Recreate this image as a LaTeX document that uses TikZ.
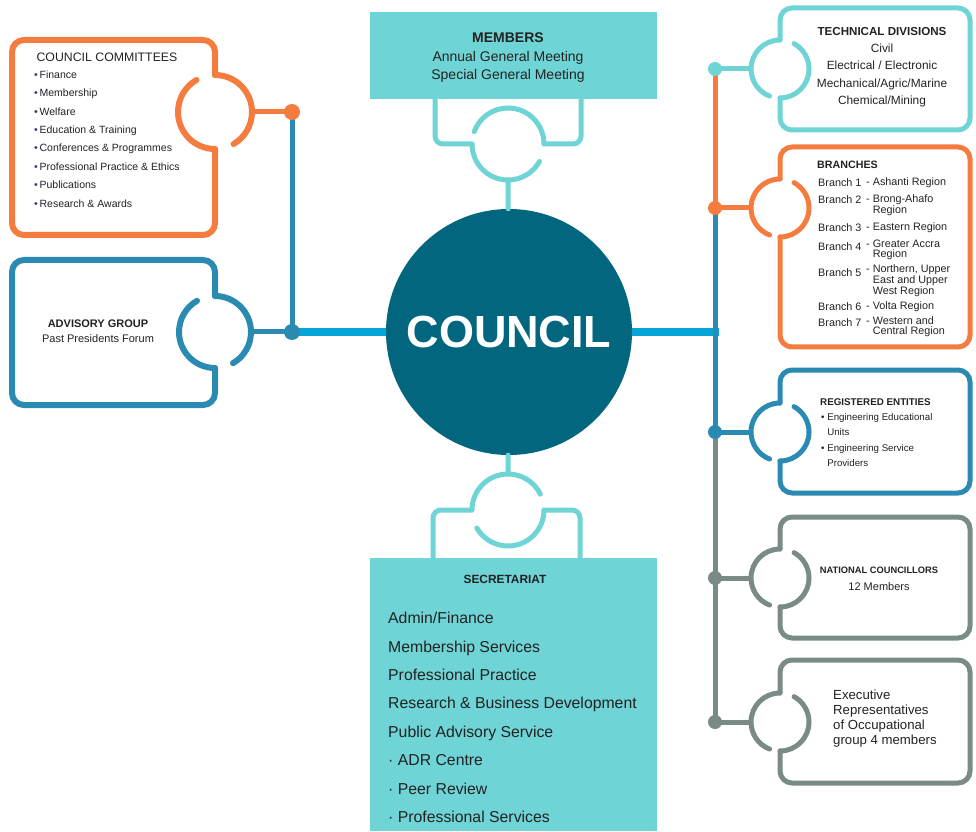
\documentclass[tikz,border=0pt]{standalone}
\usepackage{fontspec}
\setmainfont{Liberation Sans}
\usepackage{tikz}

\definecolor{orng}{HTML}{F47C3E}
\definecolor{aqua}{HTML}{6FD4D6}
\definecolor{blu}{HTML}{2A8AB2}
\definecolor{councilblue}{HTML}{03667F}
\definecolor{cyanbar}{HTML}{05A5D6}
\definecolor{slate}{HTML}{788B87}
\definecolor{ink}{HTML}{222222}
\definecolor{bullet}{HTML}{3D2E8F}

\begin{document}
\begin{tikzpicture}[x=1pt, y=1pt, line cap=round, text=ink,
  ring/.style={circle, inner sep=0pt, minimum size=#1},
  dot/.style={circle, fill=#1, inner sep=0pt, minimum size=14pt},
  box/.style={line width=5pt, rounded corners=12pt},
  brtxt/.style={anchor=west, inner sep=0pt, align=left, font=\fontsize{10.8}{10}\selectfont}]
  \useasboundingbox (0,0) rectangle (976,831);

  % left boxes
  \draw[orng, box, line width=6pt] (215,756) -- (215,791) -- (12,791) -- (12,596) -- (215,596) -- (215,682);
  \draw[orng, line width=6pt] (215,682) arc[start angle=270, end angle=120, radius=37pt]
    (215,756) arc[start angle=90, end angle=-60, radius=37pt];
  \node[ring=74pt] (cc) at (215,719) {};
  \draw[blu, box, line width=6pt] (215,535) -- (215,571) -- (12,571) -- (12,426) -- (215,426) -- (215,463);
  \draw[blu, line width=6pt] (215,463) arc[start angle=270, end angle=120, radius=36pt]
    (215,535) arc[start angle=90, end angle=-60, radius=36pt];
  \node[ring=72pt] (adv) at (215,499) {};

  % centre
  \node[circle, fill=councilblue, minimum size=246pt, inner sep=0pt, text=white,
    font=\bfseries\fontsize{45}{54}\selectfont] (council) at (509,499) {COUNCIL};

  % members
  \node[fill=aqua, minimum width=287pt, minimum height=87pt, inner sep=0pt, anchor=north west] (mem) at (370,819) {};
  \draw[aqua, line width=5pt, rounded corners=8pt] (435,732) -- (435,687) -- (472,687)
    (581,732) -- (581,687) -- (544,687);
  \draw[aqua, line width=5pt] (472,687) arc[start angle=180, end angle=331, radius=36pt]
    (544,687) arc[start angle=0, end angle=160, radius=36pt];
  \node[ring=72pt] (memring) at (508,687) {};
  \draw[aqua, line width=5pt] (memring.south) -- (council);

  % secretariat
  \node[fill=aqua, minimum width=287pt, minimum height=273pt, inner sep=0pt, anchor=south west] (sec) at (370,0) {};
  \draw[aqua, line width=5pt, rounded corners=8pt] (433,273) -- (433,321) -- (472,321)
    (580,273) -- (580,321) -- (544,321);
  \draw[aqua, line width=5pt] (472,321) arc[start angle=180, end angle=26, radius=36pt]
    (544,321) arc[start angle=0, end angle=-150, radius=36pt];
  \node[ring=72pt] (secring) at (508,321) {};
  \draw[aqua, line width=5pt] (secring.north) -- (council);

  % right boxes
  \draw[aqua, box] (780,791) -- (780,823) -- (970,823) -- (970,701) -- (780,701) -- (780,733);
  \draw[aqua, line width=5pt] (780,791) arc[start angle=90, end angle=249, radius=29pt]
    (780,733) arc[start angle=-90, end angle=61, radius=29pt];
  \node[ring=58pt] (td) at (780,762) {};
  \draw[orng, box] (780,652) -- (780,684) -- (970,684) -- (970,484) -- (780,484) -- (780,594);
  \draw[orng, line width=5pt] (780,652) arc[start angle=90, end angle=249, radius=29pt]
    (780,594) arc[start angle=-90, end angle=61, radius=29pt];
  \node[ring=58pt] (br) at (780,623) {};
  \draw[blu, box] (780,428) -- (780,461) -- (970,461) -- (970,338) -- (780,338) -- (780,370);
  \draw[blu, line width=5pt] (780,428) arc[start angle=90, end angle=249, radius=29pt]
    (780,370) arc[start angle=-90, end angle=61, radius=29pt];
  \node[ring=58pt] (re) at (780,399) {};
  \draw[slate, box] (780,282) -- (780,314) -- (970,314) -- (970,193) -- (780,193) -- (780,224);
  \draw[slate, line width=5pt] (780,282) arc[start angle=90, end angle=249, radius=29pt]
    (780,224) arc[start angle=-90, end angle=61, radius=29pt];
  \node[ring=58pt] (nc) at (780,253) {};
  \draw[slate, box] (780,138) -- (780,171) -- (970,171) -- (970,48) -- (780,48) -- (780,80);
  \draw[slate, line width=5pt] (780,138) arc[start angle=90, end angle=249, radius=29pt]
    (780,80) arc[start angle=-90, end angle=61, radius=29pt];
  \node[ring=58pt] (ex) at (780,109) {};

  % junctions
  \coordinate (jcc) at (292,719);
  \coordinate (jadv) at (292,499);
  \coordinate (jtd) at (715,762);
  \coordinate (jbr) at (715,623);
  \coordinate (jre) at (715,399);
  \coordinate (jnc) at (715,253);
  \coordinate (jex) at (715,109);
  \coordinate (jbar) at (719,499);

  \draw[cyanbar, line width=8pt, line cap=butt] (jadv) -- (council) (council) -- (jbar);
  \draw[orng, line width=5pt] (cc.east) -- (jcc);
  \draw[blu, line width=5pt] (jcc) -- (jadv) (adv.east) -- (jadv);
  \draw[aqua, line width=5pt] (td.west) -- (jtd);
  \draw[orng, line width=5pt] (jtd) -- (jbr) (br.west) -- (jbr);
  \draw[blu, line width=5pt] (jbr) -- (jre) (re.west) -- (jre);
  \draw[slate, line width=5pt] (jre) -- (jex) (nc.west) -- (jnc) (ex.west) -- (jex);

  \node[dot=orng, minimum size=16pt] (dcc) at (jcc) {};
  \node[dot=blu, minimum size=16pt] (dadv) at (jadv) {};
  \node[dot=aqua] (dtd) at (jtd) {};
  \node[dot=orng] (dbr) at (jbr) {};
  \node[dot=blu] (dre) at (jre) {};
  \node[dot=slate] (dnc) at (jnc) {};
  \node[dot=slate] (dex) at (jex) {};

  % texts
  \node[font=\fontsize{12.3}{15}\selectfont] (cctitle) at (107,774) {COUNCIL COMMITTEES};
  \node[anchor=west, align=left, inner sep=0pt, font=\fontsize{10.5}{18.4}\selectfont] (cclist) at (34,692)
    {\textcolor{bullet}{\textbullet}\,Finance\\\textcolor{bullet}{\textbullet}\,Membership\\
     \textcolor{bullet}{\textbullet}\,Welfare\\\textcolor{bullet}{\textbullet}\,Education \& Training\\
     \textcolor{bullet}{\textbullet}\,Conferences \& Programmes\\\textcolor{bullet}{\textbullet}\,Professional Practice \& Ethics\\
     \textcolor{bullet}{\textbullet}\,Publications\\\textcolor{bullet}{\textbullet}\,Research \& Awards};
  \node[align=center, font=\fontsize{11}{15.5}\selectfont] (advtxt) at (98,500)
    {\textbf{ADVISORY GROUP}\\Past Presidents Forum};
  \node[align=center, font=\fontsize{14}{18.5}\selectfont] (memtxt) at (508,773)
    {\textbf{MEMBERS}\\Annual General Meeting\\Special General Meeting};
  \node[font=\bfseries\fontsize{11.9}{14}\selectfont] (sectitle) at (505,252) {SECRETARIAT};
  \node[anchor=west, align=left, inner sep=0pt, font=\fontsize{15.8}{28.4}\selectfont] (seclist) at (388,113.5)
    {Admin/Finance\\Membership Services\\Professional Practice\\Research \& Business Development\\
     Public Advisory Service\\· ADR Centre\\· Peer Review\\· Professional Services};

  \node[align=center, font=\fontsize{11.9}{17.3}\selectfont] (tdtxt) at (882,764)
    {\textbf{\fontsize{11.6}{17.3}\selectfont TECHNICAL DIVISIONS}\\Civil\\Electrical / Electronic\\Mechanical/Agric/Marine\\Chemical/Mining};

  \node[anchor=west, inner sep=0pt, font=\bfseries\fontsize{10.7}{13}\selectfont] (brtitle) at (817,666) {BRANCHES};
  \node[brtxt] (b1) at (818,648) {Branch 1};
  \node[brtxt] (r1) at (866,648) {- Ashanti Region};
  \node[brtxt] (b2) at (818,631) {Branch 2};
  \node[brtxt] (r2) at (866,626) {- Brong-Ahafo\\\phantom{- }Region};
  \node[brtxt] (b3) at (818,603) {Branch 3};
  \node[brtxt] (r3) at (866,603) {- Eastern Region};
  \node[brtxt] (b4) at (818,584) {Branch 4};
  \node[brtxt] (r4) at (866,581) {- Greater Accra\\\phantom{- }Region};
  \node[brtxt] (b5) at (818,558) {Branch 5};
  \node[brtxt] (r5) at (866,550) {- Northern, Upper\\\phantom{- }East and Upper\\\phantom{- }West Region};
  \node[brtxt] (b6) at (818,524) {Branch 6};
  \node[brtxt] (r6) at (866,524) {- Volta Region};
  \node[brtxt] (b7) at (818,508) {Branch 7};
  \node[brtxt] (r7) at (866,504) {- Western and\\\phantom{- }Central Region};

  \node[anchor=west, inner sep=0pt, font=\bfseries\fontsize{9.8}{12}\selectfont] (retitle) at (820,429) {REGISTERED ENTITIES};
  \node[anchor=west, inner sep=0pt, align=left, font=\fontsize{9.7}{15.3}\selectfont] (relist) at (821,391)
    {\textbullet\ Engineering Educational\\\phantom{\textbullet\ }Units\\\textbullet\ Engineering Service\\\phantom{\textbullet\ }Providers};
  \node[inner sep=0pt, font=\bfseries\fontsize{9.3}{11}\selectfont] (nctitle) at (879,261) {NATIONAL COUNCILLORS};
  \node[inner sep=0pt, font=\fontsize{11}{13}\selectfont] (ncmem) at (879,244) {12 Members};
  \node[anchor=west, inner sep=0pt, align=left, font=\fontsize{13.2}{15}\selectfont] (extxt) at (833,112.5)
    {Executive\\Representatives\\of Occupational\\group 4 members};
\end{tikzpicture}
\end{document}
